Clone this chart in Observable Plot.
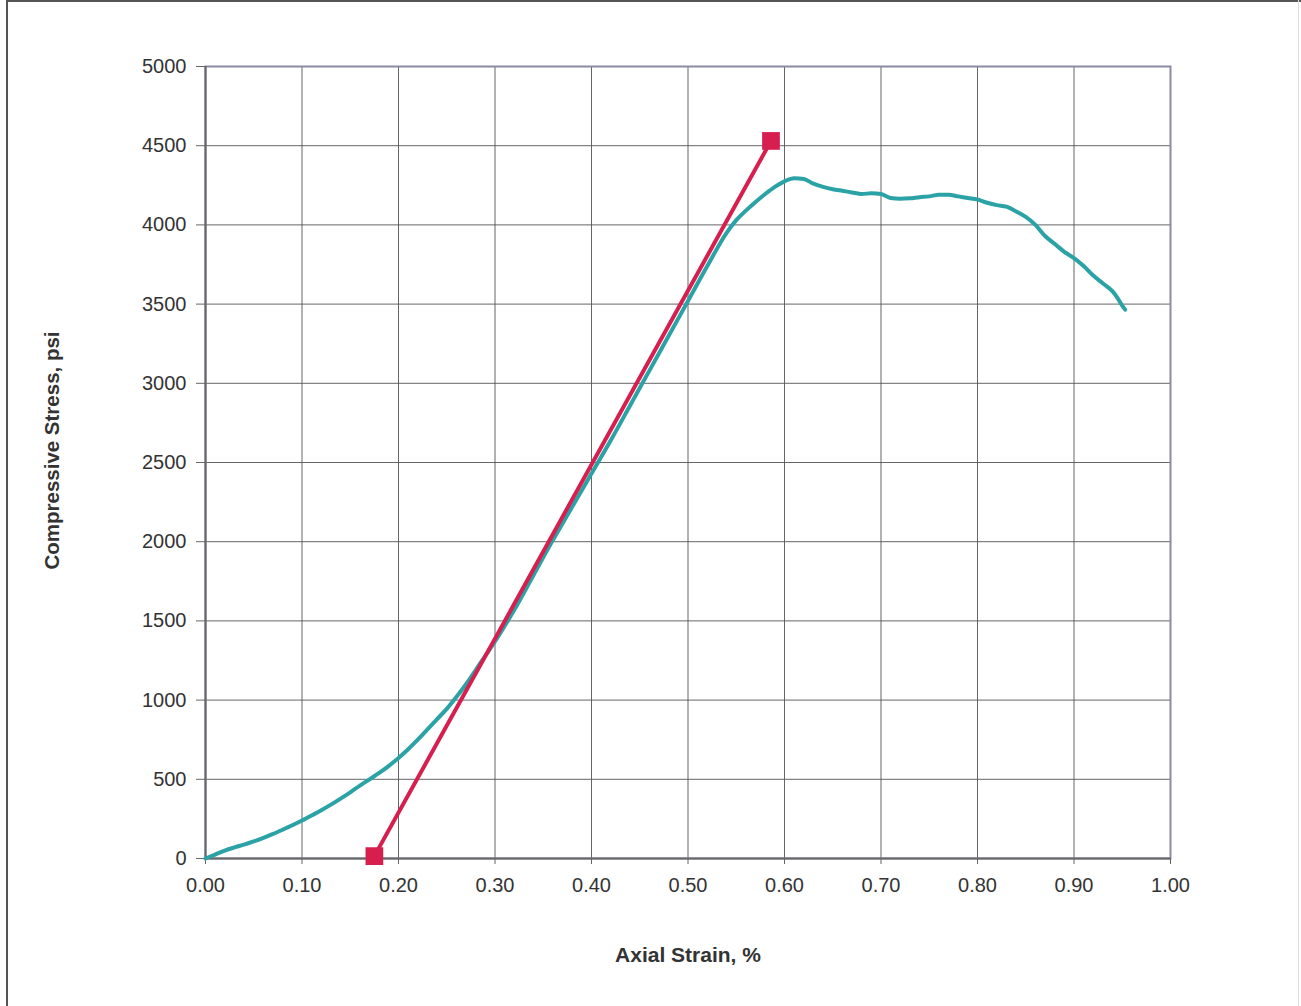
<!DOCTYPE html>
<html>
<head>
<meta charset="utf-8">
<script src="https://cdn.jsdelivr.net/npm/d3@7"></script>
<script src="https://cdn.jsdelivr.net/npm/@observablehq/plot@0.6"></script>
<style>
  html, body { margin: 0; padding: 0; background: #fff; }
  #wrap { position: relative; width: 1301px; height: 1006px; overflow: hidden; }
  #edgeL { position: absolute; left: 6px; top: 0; width: 2px; height: 1006px; background: #555; }
  #edgeT { position: absolute; left: 6px; top: 0; width: 1295px; height: 2px; background: #555; }
  #edgeR { position: absolute; left: 1298px; top: 0; width: 1px; height: 1006px; background: #ddd; }
  svg { font-family: "Liberation Sans", Arial, sans-serif; }
</style>
</head>
<body>
<div id="wrap"><div id="edgeL"></div><div id="edgeT"></div><div id="edgeR"></div><div id="chart"></div></div>
<script>
// Measured curve: axial strain (%) vs compressive stress (psi)
const strain = [0.000,0.010,0.020,0.030,0.040,0.050,0.060,0.070,0.080,0.090,
  0.100,0.110,0.120,0.130,0.140,0.150,0.160,0.170,0.180,0.190,
  0.200,0.210,0.220,0.230,0.240,0.250,0.260,0.270,0.280,0.290,
  0.300,0.320,0.340,0.360,0.380,0.400,0.420,0.440,0.460,0.480,
  0.500,0.520,0.540,0.550,0.560,0.570,0.580,0.590,0.600,0.610,
  0.620,0.630,0.640,0.650,0.660,0.670,0.680,0.690,0.700,0.710,
  0.720,0.730,0.740,0.750,0.760,0.770,0.780,0.790,0.800,0.810,
  0.820,0.830,0.840,0.850,0.860,0.870,0.880,0.890,0.900,0.910,
  0.920,0.930,0.940,0.945,0.950,0.953];
const stress = [0,25,50,70,88,108,130,155,182,210,
  240,272,305,340,378,418,460,500,540,585,
  635,690,750,815,880,945,1020,1100,1190,1280,
  1370,1570,1790,2010,2220,2430,2640,2860,3080,3300,
  3520,3740,3950,4030,4090,4145,4195,4240,4275,4295,
  4290,4260,4240,4225,4215,4205,4195,4200,4195,4170,
  4165,4168,4175,4180,4190,4190,4180,4170,4160,4140,
  4125,4115,4085,4050,4000,3930,3880,3830,3790,3740,
  3680,3630,3580,3540,3490,3465];
// Modulus line (two end points)
const lineStrain = [0.175, 0.586];
const lineStress = [15, 4530];
// Ticks
const xTicks = [0,0.1,0.2,0.3,0.4,0.5,0.6,0.7,0.8,0.9,1.0];
const yTicks = [0,500,1000,1500,2000,2500,3000,3500,4000,4500,5000];

const curve = strain.map((s, i) => ({x: s, y: stress[i]}));
const modLine = lineStrain.map((s, i) => ({x: s, y: lineStress[i]}));

const teal = "#2aa2a6";
const red = "#d61f4e";

const chart = Plot.plot({
  width: 1301,
  height: 1006,
  marginLeft: 205,
  marginRight: 131,
  marginTop: 66,
  marginBottom: 148,
  style: {fontFamily: "'Liberation Sans', Arial, sans-serif", background: "transparent"},
  x: {domain: [0, 1]},
  y: {domain: [0, 5000]},
  marks: [
    Plot.gridX(xTicks, {stroke: "#555", strokeOpacity: 0.9, strokeWidth: 1}),
    Plot.gridY(yTicks, {stroke: "#555", strokeOpacity: 0.9, strokeWidth: 1}),
    Plot.frame({stroke: "#8a8aa6", strokeWidth: 2}),
    Plot.ruleY([0], {stroke: "#666", strokeWidth: 2}),
    Plot.ruleX([0], {stroke: "#666", strokeWidth: 2}),
    Plot.axisX(xTicks, {tickFormat: d3.format(".2f"), tickSize: 6, tickPadding: 13, fontSize: 20, color: "#333", label: null, stroke: "#666"}),
    Plot.axisY(yTicks, {tickFormat: d => String(d), tickSize: 9, tickPadding: 10, fontSize: 20, color: "#333", label: null, stroke: "#666"}),
    Plot.line(curve, {x: "x", y: "y", stroke: teal, strokeWidth: 4, curve: "monotone-x"}),
    Plot.line(modLine, {x: "x", y: "y", stroke: red, strokeWidth: 4}),
    Plot.dot(modLine, {x: "x", y: "y", symbol: "square", r: 10, fill: red, stroke: "none"}),
    Plot.text(["Compressive Stress, psi"], {frameAnchor: "left", dx: -153, dy: -12, rotate: -90, textAnchor: "middle", lineAnchor: "middle", fontSize: 20.5, fontWeight: "bold", fill: "#333"}),
    Plot.text(["Axial Strain, %"], {frameAnchor: "bottom", dy: 97, textAnchor: "middle", lineAnchor: "middle", fontSize: 21, fontWeight: "bold", fill: "#333"})
  ]
});
document.getElementById("chart").appendChild(chart);
</script>
</body>
</html>
